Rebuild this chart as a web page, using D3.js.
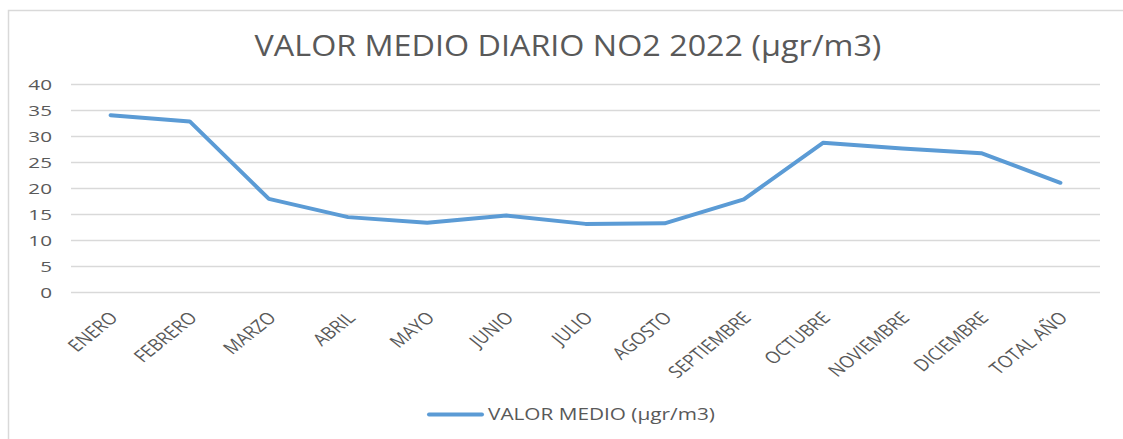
<!DOCTYPE html>
<html>
<head>
<meta charset="utf-8">
<script src="https://cdn.jsdelivr.net/npm/d3@7"></script>
<style>
  html, body { margin: 0; padding: 0; background: #fff; }
  svg { display: block; }
  text { font-family: "Open Sans", sans-serif; fill: #595959; }
</style>
</head>
<body>
<svg id="chart" width="1123" height="439"></svg>
<script>
const categories = ["ENERO","FEBRERO","MARZO","ABRIL","MAYO","JUNIO","JULIO","AGOSTO","SEPTIEMBRE","OCTUBRE","NOVIEMBRE","DICIEMBRE","TOTAL AÑO"];
const values = [34.0, 32.8, 17.9, 14.4, 13.3, 14.7, 13.1, 13.2, 17.8, 28.7, 27.6, 26.7, 21.0];
const yTicks = [0, 5, 10, 15, 20, 25, 30, 35, 40];
const titleText = "VALOR MEDIO DIARIO NO2 2022 (µgr/m3)";
const seriesName = "VALOR MEDIO (µgr/m3)";

const svg = d3.select("#chart");
const W = 1123, H = 439;
const plot = { left: 71, right: 1100, top: 84, bottom: 292 };
const stretch = 1.38;
const gridColor = "#d9d9d9";
const lineColor = "#5b9bd5";

svg.append("rect").attr("width", W).attr("height", H).attr("fill", "#fff");

// chart frame (top & left visible)
svg.append("rect")
  .attr("x", 8.5).attr("y", 10.5)
  .attr("width", W + 20).attr("height", H + 20)
  .attr("fill", "none").attr("stroke", gridColor).attr("stroke-width", 1.5);

const x = d3.scalePoint().domain(categories).range([plot.left, plot.right]).padding(0.5);
const y = d3.scaleLinear().domain([0, 40]).range([plot.bottom, plot.top]);

// Y axis with gridlines
const yAxis = svg.append("g")
  .attr("transform", `translate(${plot.left},0)`)
  .call(d3.axisLeft(y).tickValues(yTicks).tickSize(-(plot.right - plot.left)).tickPadding(0));
yAxis.select(".domain").remove();
yAxis.selectAll(".tick line").attr("stroke", gridColor).attr("stroke-width", 1.6);
yAxis.selectAll(".tick text")
  .attr("x", 0).attr("dy", "0.35em")
  .attr("transform", `translate(-19,0) scale(${stretch},1)`)
  .style("font-size", "15px").attr("fill", "#595959");

// X axis labels
const xAxis = svg.append("g")
  .attr("transform", `translate(0,${plot.bottom})`)
  .call(d3.axisBottom(x).tickSize(0).tickPadding(0));
xAxis.select(".domain").remove();
xAxis.selectAll(".tick line").remove();
xAxis.selectAll(".tick text")
  .attr("x", 0).attr("y", 0).attr("dy", 0)
  .attr("text-anchor", "end")
  .attr("transform", `translate(8,27) scale(1.25,1) rotate(-45) scale(0.86,1)`)
  .style("font-size", "17px").attr("fill", "#595959");

// line
const line = d3.line().x((d, i) => x(categories[i])).y(d => y(d));
svg.append("path")
  .datum(values)
  .attr("d", line)
  .attr("fill", "none")
  .attr("stroke", lineColor)
  .attr("stroke-width", 4)
  .attr("stroke-linejoin", "round")
  .attr("stroke-linecap", "round");

// title
const title = svg.append("text")
  .attr("text-anchor", "middle")
  .attr("x", 568).attr("y", 56)
  .style("font-size", "29px")
  .text(titleText);
{
  const w = title.node().getComputedTextLength();
  const s = 627 / w;
  title.attr("transform", `translate(568,0) scale(${s},1) translate(-568,0)`);
}

// legend
svg.append("line")
  .attr("x1", 429).attr("x2", 482).attr("y1", 414.5).attr("y2", 414.5)
  .attr("stroke", lineColor).attr("stroke-width", 4).attr("stroke-linecap", "round");
const leg = svg.append("text")
  .attr("x", 0).attr("y", 0)
  .style("font-size", "16px")
  .text(seriesName);
{
  const w = leg.node().getComputedTextLength();
  const s = 227 / w;
  leg.attr("transform", `translate(488,420) scale(${s},1)`);
}
</script>
</body>
</html>
